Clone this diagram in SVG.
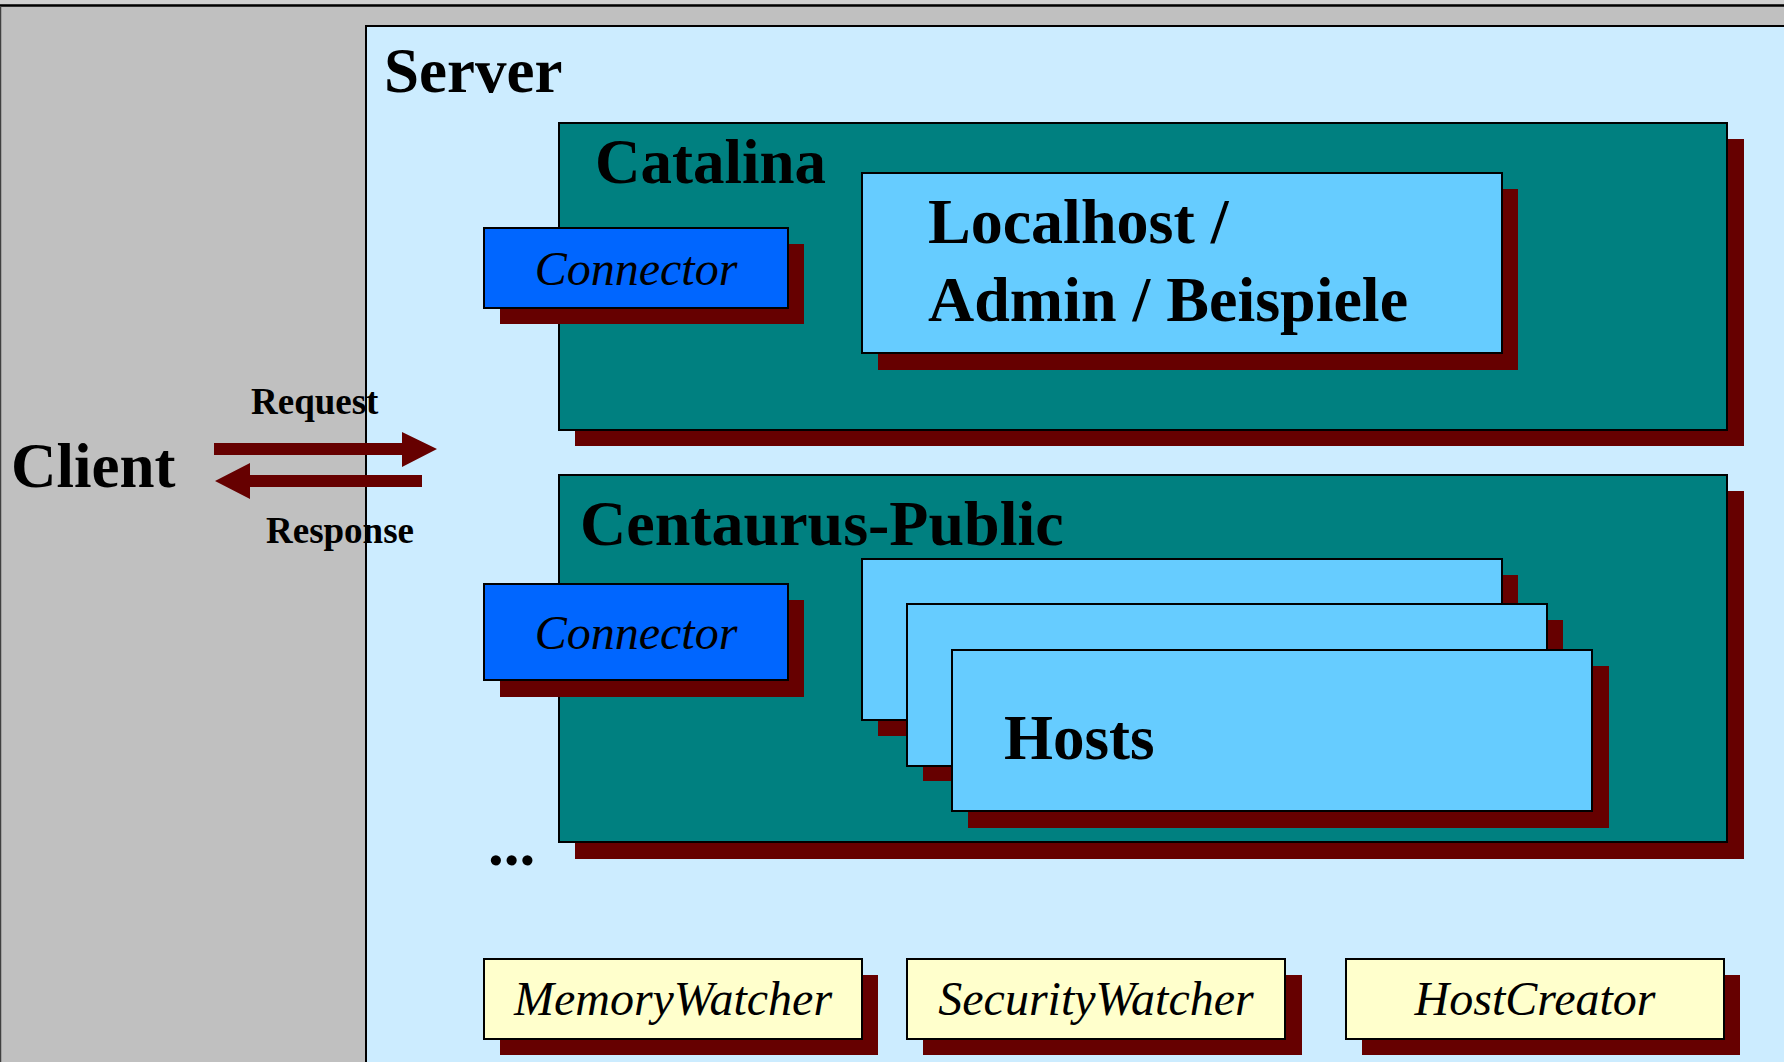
<svg xmlns="http://www.w3.org/2000/svg" width="1784" height="1062" viewBox="0 0 1784 1062">
<style>
.sh{fill:#660000;}
.bx{stroke:#000;stroke-width:2;}
.teal{fill:#008080;}
.conn{fill:#0066FF;}
.host{fill:#66CCFF;}
.yel{fill:#FFFFCC;}
.b{font-family:"Liberation Serif","Times New Roman",serif;font-weight:bold;fill:#000;}
.i{font-family:"Liberation Serif","Times New Roman",serif;font-style:italic;fill:#000;}
.arr{fill:#660000;}
</style>
<rect x="0" y="0" width="1784" height="1062" fill="#C0C0C0"/>
<rect x="0" y="0" width="1784" height="4" fill="#D0D0D0"/>
<line x1="0" y1="5.5" x2="1784" y2="5.5" stroke="#000" stroke-width="2.5"/>
<line x1="0.5" y1="6" x2="0.5" y2="1062" stroke="#404040" stroke-width="1.5"/>

<g id="client">
<text class="b" x="11" y="487" font-size="63">Client</text>
</g>

<g id="server">
<rect x="366" y="26" width="1440" height="1060" fill="#CCECFF" class="bx"/>
<text class="b" x="384" y="92" font-size="63">Server</text>
</g>

<g id="catalina">
<rect class="sh" x="575" y="139" width="1169" height="307"/>
<rect class="teal bx" x="559" y="123" width="1168" height="307"/>
<text class="b" x="595" y="183" font-size="63">Catalina</text>
</g>

<g id="connector1">
<rect class="sh" x="500" y="244" width="304" height="80"/>
<rect class="conn bx" x="484" y="228" width="304" height="80"/>
<text class="i" x="636" y="285" font-size="48" text-anchor="middle">Connector</text>
</g>

<g id="localhost">
<rect class="sh" x="878" y="189" width="640" height="181"/>
<rect class="host bx" x="862" y="173" width="640" height="180"/>
<text class="b" x="928" y="243" font-size="64">Localhost /</text>
<text class="b" x="928" y="321" font-size="64">Admin / Beispiele</text>
</g>

<g id="centaurus">
<rect class="sh" x="575" y="491" width="1169" height="368"/>
<rect class="teal bx" x="559" y="475" width="1168" height="367"/>
<text class="b" x="580" y="545" font-size="64">Centaurus-Public</text>
</g>

<g id="connector2">
<rect class="sh" x="500" y="600" width="304" height="97"/>
<rect class="conn bx" x="484" y="584" width="304" height="96"/>
<text class="i" x="636" y="649" font-size="48" text-anchor="middle">Connector</text>
</g>

<g id="hostA">
<rect class="sh" x="878" y="575" width="640" height="161"/>
<rect class="host bx" x="862" y="559" width="640" height="161"/>
</g>
<g id="hostB">
<rect class="sh" x="923" y="620" width="640" height="161"/>
<rect class="host bx" x="907" y="604" width="640" height="162"/>
</g>
<g id="hostC">
<rect class="sh" x="968" y="666" width="641" height="162"/>
<rect class="host bx" x="952" y="650" width="640" height="161"/>
<text class="b" x="1004" y="759" font-size="63">Hosts</text>
</g>

<g id="more">
<text class="b" x="488" y="865" font-size="63">...</text>
</g>

<g id="memorywatcher">
<rect class="sh" x="500" y="975" width="378" height="80"/>
<rect class="yel bx" x="484" y="959" width="378" height="80"/>
<text class="i" x="673" y="1015" font-size="48" text-anchor="middle">MemoryWatcher</text>
</g>
<g id="securitywatcher">
<rect class="sh" x="923" y="975" width="379" height="80"/>
<rect class="yel bx" x="907" y="959" width="378" height="80"/>
<text class="i" x="1096" y="1015" font-size="48" text-anchor="middle">SecurityWatcher</text>
</g>
<g id="hostcreator">
<rect class="sh" x="1362" y="975" width="378" height="80"/>
<rect class="yel bx" x="1346" y="959" width="378" height="80"/>
<text class="i" x="1535" y="1015" font-size="48" text-anchor="middle">HostCreator</text>
</g>

<g id="connectors">
<polygon class="arr" points="214,443 402,443 402,432 437,449 402,467 402,455 214,455"/>
<polygon class="arr" points="422,475 250,475 250,463 215,481 250,499 250,487 422,487"/>
<text class="b" x="251" y="414" font-size="37">Request</text>
<text class="b" x="266" y="543" font-size="37">Response</text>
</g>
</svg>
